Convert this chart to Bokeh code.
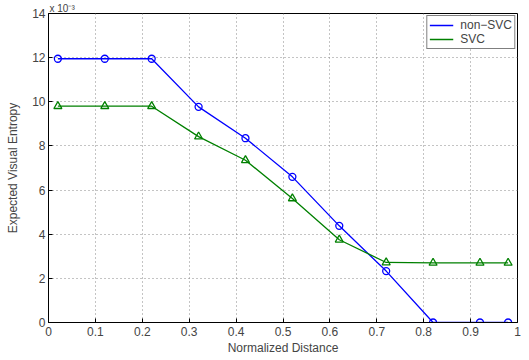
from bokeh.plotting import figure
from bokeh.models import Range1d, Legend, LegendItem, FixedTicker
from bokeh.embed import file_html
from bokeh.resources import INLINE

x = [0.02, 0.12, 0.22, 0.32, 0.42, 0.52, 0.62, 0.72, 0.82, 0.92, 0.98]
non_svc = [11.95, 11.95, 11.95, 9.77, 8.35, 6.6, 4.38, 2.33, 0.0, 0.0, 0.0]
svc = [9.8, 9.8, 9.8, 8.42, 7.35, 5.62, 3.75, 2.72, 2.7, 2.7, 2.7]
x_ticks = [0, 0.1, 0.2, 0.3, 0.4, 0.5, 0.6, 0.7, 0.8, 0.9, 1]
y_ticks = [0, 2, 4, 6, 8, 10, 12, 14]
scale_note = "x 10\u207b\u00b3"

FONT = "Liberation Sans"

p = figure(width=529, height=360, output_backend="svg", toolbar_location=None,
           x_range=Range1d(0, 1), y_range=Range1d(0, 14),
           min_border_left=48, min_border_right=12, min_border_top=0, min_border_bottom=38,
           title=scale_note)
p.title.text_font = FONT
p.title.text_font_size = "10px"
p.title.text_font_style = "normal"
p.title.text_line_height = 0.8
p.title.standoff = 0
p.title.offset = 1
p.title.align = "left"

p.outline_line_color = "black"
p.outline_line_width = 1

for ax in (p.xaxis[0], p.yaxis[0]):
    ax.major_tick_in = 4
    ax.major_tick_out = 0
    ax.minor_tick_in = 0
    ax.minor_tick_out = 0
    ax.major_label_text_font = FONT
    ax.major_label_text_font_size = "12px"
    ax.axis_label_text_font = FONT
    ax.axis_label_text_font_size = "12px"
    ax.axis_label_text_font_style = "normal"
    ax.axis_line_color = "black"
    ax.axis_line_width = 1

p.xaxis.ticker = FixedTicker(ticks=x_ticks)
p.yaxis.ticker = FixedTicker(ticks=y_ticks)
p.xaxis.major_label_overrides = {0: "0", 1: "1"}
p.xaxis.axis_label = "Normalized Distance"
p.yaxis.axis_label = "Expected Visual Entropy"
p.xaxis.major_label_standoff = 4
p.yaxis.major_label_standoff = 3
p.xaxis.axis_label_standoff = 2
p.yaxis.axis_label_standoff = 9

for g in (p.xgrid[0], p.ygrid[0]):
    g.grid_line_color = "#888888"
    g.grid_line_dash = "1 3"
    g.grid_line_width = 1

l1 = p.line(x, non_svc, line_color="blue", line_width=1.3)
m1 = p.scatter(x, non_svc, marker="circle", size=7, fill_color=None, line_color="blue", line_width=1.3)
l2 = p.line(x, svc, line_color="green", line_width=1.3)
m2 = p.scatter(x, svc, marker="triangle", size=8, fill_color=None, line_color="green", line_width=1.3)

legend = Legend(items=[LegendItem(label="non\u2212SVC", renderers=[l1]),
                       LegendItem(label="SVC", renderers=[l2])],
                location="top_right")
legend.margin = 2
legend.padding = 2
legend.spacing = 0
legend.label_standoff = 7
legend.label_text_font = FONT
legend.label_text_font_size = "12px"
legend.label_text_line_height = 0.8
legend.label_height = 10
legend.glyph_height = 10
legend.glyph_width = 24
legend.border_line_color = "black"
legend.border_line_width = 1
legend.background_fill_alpha = 1
p.add_layout(legend)

open("out.html", "w").write(file_html(p, INLINE))
